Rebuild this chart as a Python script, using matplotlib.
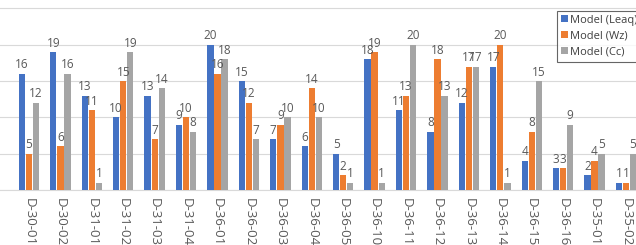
import matplotlib
matplotlib.use("Agg")
import matplotlib.pyplot as plt
import numpy as np

categories = ["D-30-01", "D-30-02", "D-31-01", "D-31-02", "D-31-03", "D-31-04",
              "D-36-01", "D-36-02", "D-36-03", "D-36-04", "D-36-05", "D-36-10",
              "D-36-11", "D-36-12", "D-36-13", "D-36-14", "D-36-15", "D-36-16",
              "D-35-01", "D-35-02"]
leaq = [16, 19, 13, 10, 13, 9, 20, 15, 7, 6, 5, 18, 11, 8, 12, 17, 4, 3, 2, 1]
wz = [5, 6, 11, 15, 7, 10, 16, 12, 9, 14, 2, 19, 13, 18, 17, 20, 8, 3, 4, 1]
cc = [12, 16, 1, 19, 14, 8, 18, 7, 10, 10, 1, 1, 20, 13, 17, 1, 15, 9, 5, 5]
series_names = ["Model (Leaq)", "Model (Wz)", "Model (Cc)"]
colors = ["#4472C4", "#ED7D31", "#A5A5A5"]

plt.rcParams['font.family'] = ['Open Sans', 'DejaVu Sans']

W, H = 636, 245
fig = plt.figure(figsize=(W / 100, H / 100), dpi=100)
ax = fig.add_axes([0, (H - 190) / H, 1, 190 / H])

x = np.arange(len(categories))
bw = 0.2
off = 0.225
for k, (vals, name, c) in enumerate(zip([leaq, wz, cc], series_names, colors)):
    pos = x + (k - 1) * off
    ax.bar(pos, vals, width=bw, color=c, label=name, zorder=3)
    for p, v in zip(pos, vals):
        ax.text(p, v + 0.35, str(v), ha='center', va='bottom', fontsize=8.5,
                color='#595959', zorder=4)

px_per_unit = 31.42
xmin = -29 / px_per_unit
xmax = (W - 29) / px_per_unit
ax.set_xlim(xmin, xmax)
ymax = 190 / 7.26
ax.set_ylim(0, ymax)

ax.set_yticks([0, 5, 10, 15, 20, 25])
ax.yaxis.grid(True, color='#D9D9D9', linewidth=0.8, zorder=0)
ax.tick_params(axis='y', left=False, labelleft=False)
ax.set_xticks(x)
ax.set_xticklabels(categories, rotation=270, fontsize=9.5, color='#595959')
ax.tick_params(axis='x', length=0, pad=6)
for s in ['top', 'left', 'right']:
    ax.spines[s].set_visible(False)
ax.spines['bottom'].set_color('#D9D9D9')
ax.spines['bottom'].set_linewidth(0.8)

leg = ax.legend(loc='upper left', bbox_to_anchor=(557 / W, 1 - 11 / H),
                bbox_transform=fig.transFigure, fontsize=8, frameon=True,
                fancybox=False, handlelength=0.6, handleheight=0.6,
                handletextpad=0.2, borderpad=0.35, labelspacing=0.45,
                borderaxespad=0)
leg.get_frame().set_edgecolor('#404040')
leg.get_frame().set_linewidth(0.8)
for t in leg.get_texts():
    t.set_color('#404040')

fig.savefig("out.png", dpi=100)
